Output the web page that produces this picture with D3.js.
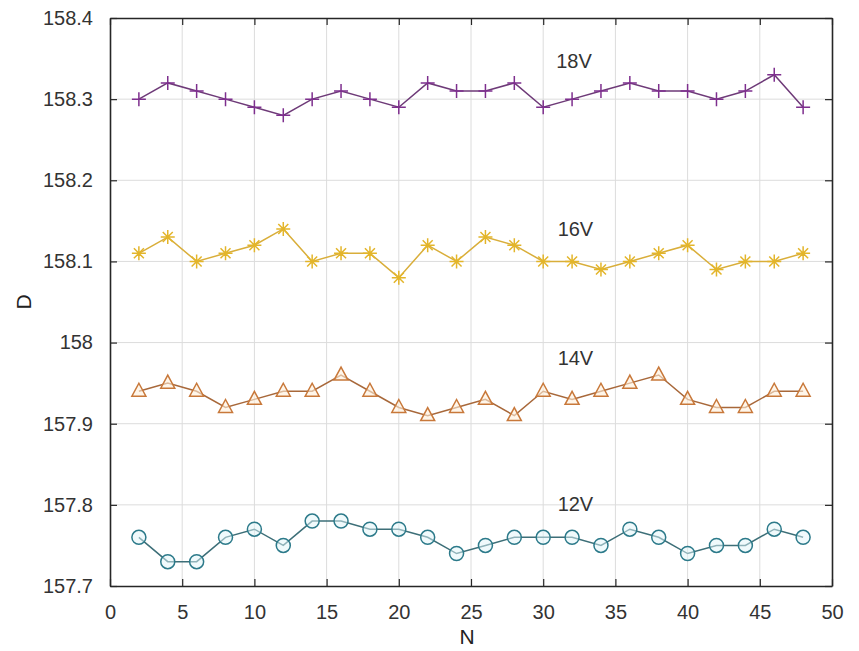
<!DOCTYPE html>
<html>
<head>
<meta charset="utf-8">
<script src="https://cdn.jsdelivr.net/npm/d3@7"></script>
<style>
  html, body { margin: 0; padding: 0; background: #fff; }
  svg { display: block; font-family: Arial, "Liberation Sans", sans-serif; }
</style>
</head>
<body>
<svg id="chart" width="859" height="651"></svg>
<script>
// ---- data ----
const nValues = [2,4,6,8,10,12,14,16,18,20,22,24,26,28,30,32,34,36,38,40,42,44,46,48];
const v18 = [158.30,158.32,158.31,158.30,158.29,158.28,158.30,158.31,158.30,158.29,158.32,158.31,158.31,158.32,158.29,158.30,158.31,158.32,158.31,158.31,158.30,158.31,158.33,158.29];
const v16 = [158.11,158.13,158.10,158.11,158.12,158.14,158.10,158.11,158.11,158.08,158.12,158.10,158.13,158.12,158.10,158.10,158.09,158.10,158.11,158.12,158.09,158.10,158.10,158.11];
const v14 = [157.94,157.95,157.94,157.92,157.93,157.94,157.94,157.96,157.94,157.92,157.91,157.92,157.93,157.91,157.94,157.93,157.94,157.95,157.96,157.93,157.92,157.92,157.94,157.94];
const v12 = [157.76,157.73,157.73,157.76,157.77,157.75,157.78,157.78,157.77,157.77,157.76,157.74,157.75,157.76,157.76,157.76,157.75,157.77,157.76,157.74,157.75,157.75,157.77,157.76];
const seriesNames = ["18V","16V","14V","12V"];
const labelX = [30.9, 31, 31, 31];
const labelY = [158.338, 158.131, 157.972, 157.793];
const xTicks = [0,5,10,15,20,25,30,35,40,45,50];
const yTicks = [157.7,157.8,157.9,158,158.1,158.2,158.3,158.4];
const xTitle = "N";
const yTitle = "D";

// ---- layout ----
const svg = d3.select("#chart");
const L = 110, R = 832, T = 18, B = 586;
const x = d3.scaleLinear().domain([0, 50]).range([L, R]);
const y = d3.scaleLinear().domain([157.7, 158.4]).range([B, T]);

// grid
const grid = svg.append("g");
grid.selectAll("line.gx").data(xTicks.slice(1, -1)).join("line")
  .attr("x1", d => x(d)).attr("x2", d => x(d)).attr("y1", T).attr("y2", B)
  .attr("stroke", "#dcdcdc").attr("stroke-width", 1);
grid.selectAll("line.gy").data(yTicks.slice(1, -1)).join("line")
  .attr("x1", L).attr("x2", R).attr("y1", d => y(d)).attr("y2", d => y(d))
  .attr("stroke", "#dcdcdc").attr("stroke-width", 1);

// axes (ticks inward)
const fmtY = d => d3.format("")(+d.toFixed(1));
const axColor = "#262626";
const gB = svg.append("g").attr("transform", `translate(0,${B})`)
  .call(d3.axisBottom(x).tickValues(xTicks).tickSizeInner(-7).tickSizeOuter(0).tickPadding(19).tickFormat(d3.format("d")));
const gT = svg.append("g").attr("transform", `translate(0,${T})`)
  .call(d3.axisTop(x).tickValues(xTicks).tickSizeInner(-7).tickSizeOuter(0).tickFormat(""));
const gL = svg.append("g").attr("transform", `translate(${L},0)`)
  .call(d3.axisLeft(y).tickValues(yTicks).tickSizeInner(-7).tickSizeOuter(0).tickPadding(17).tickFormat(fmtY));
const gR = svg.append("g").attr("transform", `translate(${R},0)`)
  .call(d3.axisRight(y).tickValues(yTicks).tickSizeInner(-7).tickSizeOuter(0).tickFormat(""));
[gB, gT, gL, gR].forEach(g => {
  g.select(".domain").attr("stroke", axColor).attr("stroke-width", 1.6);
  g.selectAll(".tick line").attr("stroke", axColor).attr("stroke-width", 1.2);
  g.selectAll(".tick text").attr("fill", "#333").attr("font-size", 20)
    .attr("font-family", "Arial, 'Liberation Sans', sans-serif");
});

// series
const colors = ["#7E2F8E", "#E3B52A", "#C8783A", "#2C7A8A"];
const lineColors = ["#6E3A78", "#D9AE3A", "#A8683A", "#3D6F78"];
const allVals = [v18, v16, v14, v12];
const line = d3.line().x(d => x(d[0])).y(d => y(d[1]));

allVals.forEach((vals, si) => {
  const pts = nValues.map((n, i) => [n, vals[i]]);
  const g = svg.append("g");
  g.append("path").datum(pts).attr("d", line)
    .attr("fill", "none").attr("stroke", lineColors[si]).attr("stroke-width", 1.5);
  const c = colors[si];
  const m = g.selectAll("g.m").data(pts).join("g")
    .attr("transform", d => `translate(${x(d[0])},${y(d[1])})`);
  if (si === 0) {
    m.append("path").attr("d", "M-7,0H7M0,-7V7").attr("stroke", c).attr("stroke-width", 1.5).attr("fill", "none");
  } else if (si === 1) {
    m.append("path").attr("d", "M-7,0H7M0,-7V7M-5,-5L5,5M-5,5L5,-5").attr("stroke", c).attr("stroke-width", 1.5).attr("fill", "none");
  } else if (si === 2) {
    m.append("path").attr("d", "M0,-8L7,5H-7Z").attr("stroke", c).attr("stroke-width", 1.5).attr("fill", "rgba(255,240,220,0.6)");
  } else {
    m.append("circle").attr("r", 7).attr("stroke", c).attr("stroke-width", 1.5).attr("fill", "rgba(225,245,250,0.5)");
  }
});

// series labels
svg.selectAll("text.slabel").data(seriesNames).join("text")
  .attr("class", "slabel")
  .attr("x", (d, i) => x(labelX[i])).attr("y", (d, i) => y(labelY[i]))
  .attr("font-size", 20).attr("fill", "#333").text(d => d);

// axis titles
svg.append("text").attr("x", (L + R) / 2 - 4).attr("y", 644).attr("text-anchor", "middle")
  .attr("font-size", 21).attr("fill", "#222").text(xTitle);
svg.append("text").attr("transform", `translate(31,${(T + B) / 2}) rotate(-90)`).attr("text-anchor", "middle")
  .attr("font-size", 21).attr("fill", "#222").text(yTitle);
</script>
</body>
</html>
